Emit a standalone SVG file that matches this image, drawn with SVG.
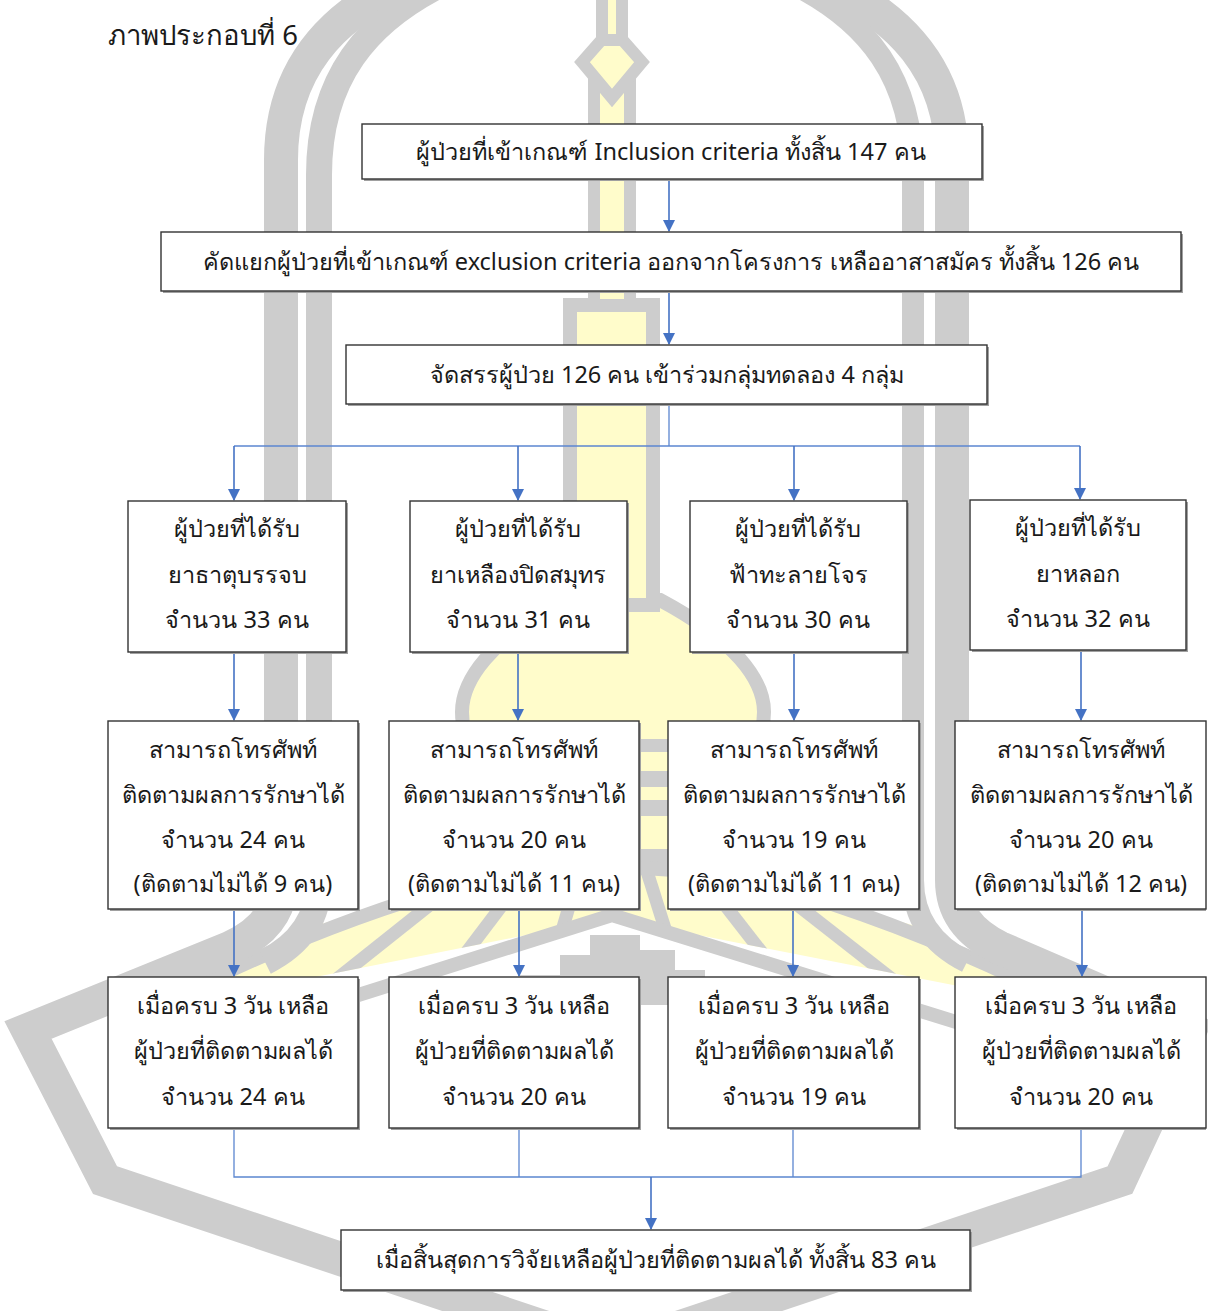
<svg xmlns="http://www.w3.org/2000/svg" width="1208" height="1311" viewBox="0 0 1208 1311">
<style>
.wm{fill:none;stroke:#cdcdcd;}
.yl{fill:#fffccb;}
.sh{fill:#a0a0a0;}
.bx{fill:#ffffff;stroke:#333333;stroke-width:1.4;}
.t{font-family:"Noto Sans","DejaVu Sans",sans-serif;font-size:23.5px;fill:#1a1a1a;text-anchor:middle;}
.title{font-family:"Noto Sans","DejaVu Sans",sans-serif;font-size:27.5px;fill:#1a1a1a;}
.ln{fill:none;stroke:#4472c4;stroke-width:1.6;}
.bus{fill:none;stroke:#5b86d0;stroke-width:1.3;}
</style>
<defs>
<marker id="ah" markerUnits="userSpaceOnUse" markerWidth="12" markerHeight="12" refX="11" refY="6" orient="auto">
<path d="M0,0 L12,6 L0,12 z" fill="#4472c4"/>
</marker>
<clipPath id="fanclip"><polygon points="150,1010 300,930 460,885 612,868 770,885 930,930 1080,1010 612,918"/></clipPath>
</defs>
<rect x="0" y="0" width="1208" height="1311" fill="#ffffff"/>

<g id="watermark">
<path class="yl" d="M565 600 C490 640 462 680 462 712 C462 740 476 746 505 746 L720 746 C750 746 764 740 764 712 C764 680 735 640 660 600 Z" stroke="#cdcdcd" stroke-width="14"/>
<rect x="570" y="305" width="83" height="300" class="yl" stroke="#cdcdcd" stroke-width="14"/>
<rect x="594" y="70" width="36" height="235" class="yl" stroke="#cdcdcd" stroke-width="12"/>
<polygon points="612,28 642,62 612,98 582,62" class="yl" stroke="#cdcdcd" stroke-width="12"/>
<rect x="602" y="-10" width="20" height="50" class="yl" stroke="#cdcdcd" stroke-width="12"/>
<rect x="530" y="752" width="165" height="110" class="yl"/>
<rect x="540" y="771" width="145" height="16" fill="#cdcdcd"/>
<rect x="530" y="800" width="165" height="16" fill="#cdcdcd"/>
<rect x="520" y="849" width="185" height="16" fill="#cdcdcd"/>
<polygon points="150,1010 300,930 460,885 612,868 770,885 930,930 1080,1010 612,918" class="yl"/>
<g clip-path="url(#fanclip)" stroke="#cdcdcd" stroke-width="13">
<line x1="612" y1="760" x2="150" y2="960"/>
<line x1="612" y1="760" x2="260" y2="1040"/>
<line x1="612" y1="760" x2="400" y2="1040"/>
<line x1="612" y1="760" x2="530" y2="1040"/>
<line x1="612" y1="760" x2="612" y2="1040"/>
<line x1="612" y1="760" x2="700" y2="1040"/>
<line x1="612" y1="760" x2="830" y2="1040"/>
<line x1="612" y1="760" x2="970" y2="1040"/>
<line x1="612" y1="760" x2="1080" y2="960"/>
</g>
<path class="wm" stroke-width="14" d="M130 1020 Q300 930 460 885 Q612 850 770 885 Q930 930 1100 1020"/>
<path class="wm" stroke-width="14" d="M200 1045 L612 915 L1030 1045"/>
<g fill="#cdcdcd">
<rect x="590" y="935" width="50" height="70"/>
<rect x="560" y="955" width="30" height="50"/>
<rect x="640" y="950" width="35" height="55"/>
<rect x="520" y="975" width="40" height="30"/>
<rect x="675" y="970" width="30" height="35"/>
</g>
<path class="wm" stroke-width="34" stroke-linejoin="miter" d="M410 -20 C330 15 281 70 281 160 L281 880 Q281 925 230 948 L28 1030 L105 1180 L612 1350 L1120 1180 L1190 1030 L1000 948 Q952 925 952 880 L952 160 C952 70 900 15 820 -20"/>
<path class="wm" stroke-width="26" d="M450 -20 C365 20 319 80 319 175 L319 880 Q319 935 265 962"/>
<path class="wm" stroke-width="22" d="M785 -20 C870 20 913 80 913 175 L913 880 Q913 935 967 962"/>
</g>

<text class="title" x="108" y="45">ภาพประกอบที่ 6</text>

<g id="connectors">
<line class="ln" x1="669" y1="180" x2="669" y2="231" marker-end="url(#ah)"/>
<line class="ln" x1="669" y1="291" x2="669" y2="344" marker-end="url(#ah)"/>
<polyline class="bus" points="669,404 669,446"/>
<polyline class="bus" points="234,446 1080,446"/>
<line class="ln" x1="234" y1="446" x2="234" y2="500" marker-end="url(#ah)"/>
<line class="ln" x1="518" y1="446" x2="518" y2="500" marker-end="url(#ah)"/>
<line class="ln" x1="794" y1="446" x2="794" y2="500" marker-end="url(#ah)"/>
<line class="ln" x1="1080" y1="446" x2="1080" y2="499" marker-end="url(#ah)"/>
<line class="ln" x1="234" y1="652" x2="234" y2="720" marker-end="url(#ah)"/>
<line class="ln" x1="518" y1="652" x2="518" y2="720" marker-end="url(#ah)"/>
<line class="ln" x1="794" y1="652" x2="794" y2="720" marker-end="url(#ah)"/>
<line class="ln" x1="1081" y1="651" x2="1081" y2="720" marker-end="url(#ah)"/>
<line class="ln" x1="234" y1="909" x2="234" y2="976" marker-end="url(#ah)"/>
<line class="ln" x1="519" y1="909" x2="519" y2="976" marker-end="url(#ah)"/>
<line class="ln" x1="793" y1="909" x2="793" y2="976" marker-end="url(#ah)"/>
<line class="ln" x1="1082" y1="909" x2="1082" y2="976" marker-end="url(#ah)"/>
<polyline class="bus" points="234,1128 234,1177 1081,1177 1081,1128"/>
<line class="bus" x1="519" y1="1128" x2="519" y2="1177"/>
<line class="bus" x1="793" y1="1128" x2="793" y2="1177"/>
<line class="ln" x1="651" y1="1177" x2="651" y2="1229" marker-end="url(#ah)"/>
</g>

<g id="n1"><rect class="sh" x="364" y="126" width="620" height="55"/><rect class="bx" x="362" y="124" width="620" height="55"/>
<text class="t" x="671" y="160">ผู้ป่วยที่เข้าเกณฑ์ Inclusion criteria ทั้งสิ้น 147 คน</text></g>
<g id="n2"><rect class="sh" x="163" y="234" width="1020" height="59"/><rect class="bx" x="161" y="232" width="1020" height="59"/>
<text class="t" x="671" y="270">คัดแยกผู้ป่วยที่เข้าเกณฑ์ exclusion criteria ออกจากโครงการ เหลืออาสาสมัคร ทั้งสิ้น 126 คน</text></g>
<g id="n3"><rect class="sh" x="348" y="347" width="641" height="59"/><rect class="bx" x="346" y="345" width="641" height="59"/>
<text class="t" x="667" y="383">จัดสรรผู้ป่วย 126 คน เข้าร่วมกลุ่มทดลอง 4 กลุ่ม</text></g>

<g id="g1"><rect class="sh" x="130" y="503" width="218" height="151"/><rect class="bx" x="128" y="501" width="218" height="151"/>
<text class="t" x="237" y="537">ผู้ป่วยที่ได้รับ</text><text class="t" x="237" y="583">ยาธาตุบรรจบ</text><text class="t" x="237" y="628">จำนวน 33 คน</text></g>
<g id="g2"><rect class="sh" x="412" y="503" width="217" height="151"/><rect class="bx" x="410" y="501" width="217" height="151"/>
<text class="t" x="518" y="537">ผู้ป่วยที่ได้รับ</text><text class="t" x="518" y="583">ยาเหลืองปิดสมุทร</text><text class="t" x="518" y="628">จำนวน 31 คน</text></g>
<g id="g3"><rect class="sh" x="692" y="503" width="217" height="151"/><rect class="bx" x="690" y="501" width="217" height="151"/>
<text class="t" x="798" y="537">ผู้ป่วยที่ได้รับ</text><text class="t" x="798" y="583">ฟ้าทะลายโจร</text><text class="t" x="798" y="628">จำนวน 30 คน</text></g>
<g id="g4"><rect class="sh" x="972" y="502" width="216" height="150"/><rect class="bx" x="970" y="500" width="216" height="150"/>
<text class="t" x="1078" y="536">ผู้ป่วยที่ได้รับ</text><text class="t" x="1078" y="582">ยาหลอก</text><text class="t" x="1078" y="627">จำนวน 32 คน</text></g>

<g id="f1"><rect class="sh" x="110" y="723" width="250" height="188"/><rect class="bx" x="108" y="721" width="250" height="188"/>
<text class="t" x="233" y="758">สามารถโทรศัพท์</text><text class="t" x="233" y="803">ติดตามผลการรักษาได้</text><text class="t" x="233" y="848">จำนวน 24 คน</text><text class="t" x="233" y="892">(ติดตามไม่ได้ 9 คน)</text></g>
<g id="f2"><rect class="sh" x="391" y="723" width="250" height="188"/><rect class="bx" x="389" y="721" width="250" height="188"/>
<text class="t" x="514" y="758">สามารถโทรศัพท์</text><text class="t" x="514" y="803">ติดตามผลการรักษาได้</text><text class="t" x="514" y="848">จำนวน 20 คน</text><text class="t" x="514" y="892">(ติดตามไม่ได้ 11 คน)</text></g>
<g id="f3"><rect class="sh" x="670" y="723" width="251" height="188"/><rect class="bx" x="668" y="721" width="251" height="188"/>
<text class="t" x="794" y="758">สามารถโทรศัพท์</text><text class="t" x="794" y="803">ติดตามผลการรักษาได้</text><text class="t" x="794" y="848">จำนวน 19 คน</text><text class="t" x="794" y="892">(ติดตามไม่ได้ 11 คน)</text></g>
<g id="f4"><rect class="sh" x="957" y="723" width="249" height="188"/><rect class="bx" x="955" y="721" width="251" height="188"/>
<text class="t" x="1081" y="758">สามารถโทรศัพท์</text><text class="t" x="1081" y="803">ติดตามผลการรักษาได้</text><text class="t" x="1081" y="848">จำนวน 20 คน</text><text class="t" x="1081" y="892">(ติดตามไม่ได้ 12 คน)</text></g>

<g id="r1"><rect class="sh" x="110" y="979" width="250" height="151"/><rect class="bx" x="108" y="977" width="250" height="151"/>
<text class="t" x="233" y="1014">เมื่อครบ 3 วัน เหลือ</text><text class="t" x="233" y="1059">ผู้ป่วยที่ติดตามผลได้</text><text class="t" x="233" y="1105">จำนวน 24 คน</text></g>
<g id="r2"><rect class="sh" x="391" y="979" width="250" height="151"/><rect class="bx" x="389" y="977" width="250" height="151"/>
<text class="t" x="514" y="1014">เมื่อครบ 3 วัน เหลือ</text><text class="t" x="514" y="1059">ผู้ป่วยที่ติดตามผลได้</text><text class="t" x="514" y="1105">จำนวน 20 คน</text></g>
<g id="r3"><rect class="sh" x="670" y="979" width="251" height="151"/><rect class="bx" x="668" y="977" width="251" height="151"/>
<text class="t" x="794" y="1014">เมื่อครบ 3 วัน เหลือ</text><text class="t" x="794" y="1059">ผู้ป่วยที่ติดตามผลได้</text><text class="t" x="794" y="1105">จำนวน 19 คน</text></g>
<g id="r4"><rect class="sh" x="957" y="979" width="249" height="151"/><rect class="bx" x="955" y="977" width="251" height="151"/>
<text class="t" x="1081" y="1014">เมื่อครบ 3 วัน เหลือ</text><text class="t" x="1081" y="1059">ผู้ป่วยที่ติดตามผลได้</text><text class="t" x="1081" y="1105">จำนวน 20 คน</text></g>

<g id="final"><rect class="sh" x="343" y="1232" width="629" height="60"/><rect class="bx" x="341" y="1230" width="629" height="60"/>
<text class="t" x="656" y="1268">เมื่อสิ้นสุดการวิจัยเหลือผู้ป่วยที่ติดตามผลได้ ทั้งสิ้น 83 คน</text></g>
</svg>
